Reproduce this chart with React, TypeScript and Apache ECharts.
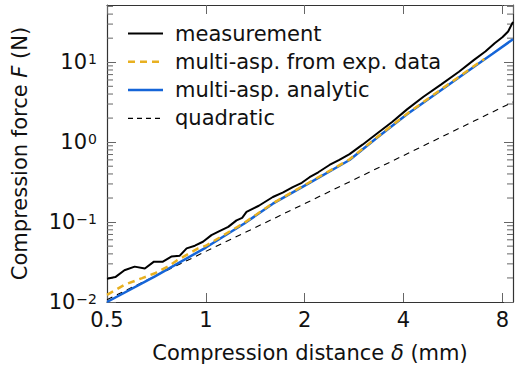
import React, { useEffect, useRef } from "react";
import * as echarts from "echarts";

// ---- data ----
const measX = [0.5, 0.53, 0.565, 0.607, 0.652, 0.695, 0.74, 0.785, 0.833, 0.874, 0.926, 0.98, 1.04, 1.1, 1.17, 1.24, 1.29, 1.33, 1.45, 1.6, 1.72, 1.84, 1.96, 2.07, 2.2, 2.38, 2.55, 2.74, 3.0, 3.3, 3.7, 4.1, 4.6, 5.2, 5.9, 6.56, 7.1, 7.58, 8.0, 8.33, 8.62];
const measF = [0.0195, 0.0205, 0.025, 0.0277, 0.0262, 0.032, 0.032, 0.037, 0.038, 0.0469, 0.0506, 0.0567, 0.0686, 0.0769, 0.0871, 0.105, 0.113, 0.134, 0.16, 0.206, 0.235, 0.274, 0.31, 0.364, 0.42, 0.518, 0.6, 0.709, 0.93, 1.256, 1.8, 2.57, 3.7, 5.25, 7.6, 10.7, 13.6, 17.3, 20.5, 24.2, 32];

const expX = [0.5, 0.565, 0.64, 0.7, 0.766, 0.82, 0.947, 1.0, 1.31, 1.6, 2.07, 2.74, 3.3, 4.1, 5.2, 6.56, 7.05];
const expF = [0.0123, 0.0164, 0.0199, 0.0229, 0.0277, 0.0335, 0.0469, 0.0505, 0.098, 0.172, 0.315, 0.61, 1.13, 2.27, 4.55, 8.95, 11.0];

const anaX = [0.5, 0.7, 1.0, 1.31, 1.6, 2.07, 2.74, 3.3, 4.1, 5.2, 6.56, 7.47, 8.62];
const anaF = [0.01, 0.0209, 0.048, 0.096, 0.17, 0.31, 0.598, 1.11, 2.23, 4.45, 8.8, 12.8, 19.4];

const quadX = [0.5, 1, 2, 4, 8.62];
const quadF = [0.0107, 0.043, 0.17, 0.68, 3.18];

const legendNames = ["measurement", "multi-asp. from exp. data", "multi-asp. analytic", "quadratic"];
const yMinorTicks = [0.02, 0.03, 0.04, 0.05, 0.06, 0.07, 0.08, 0.09, 0.2, 0.3, 0.4, 0.5, 0.6, 0.7, 0.8, 0.9, 2, 3, 4, 5, 6, 7, 8, 9, 20, 30, 40, 50];

const X_MIN = 0.5;
const X_MAX = 8.62;
const Y_MIN = 0.01;
const Y_MAX = 52;

const FONT = "DejaVu Sans";
const FS = 21;
const SUP = 14;

const COLORS = { meas: "#000000", exp: "#E8B020", ana: "#1565D8", quad: "#000000" };

const zip = (xs: number[], ys: number[]) => xs.map((x, i) => [x, ys[i]]);

export default function App() {
  const ref = useRef<HTMLDivElement>(null);
  useEffect(() => {
    if (!ref.current) return;
    const chart = echarts.init(ref.current, null, { renderer: "svg" });
    const frame = { show: true, lineStyle: { color: "#333", width: 1.2 } };
    const tickStyle = { color: "#666", width: 1 };
    const supLabel = (v: number) => {
      const e = Math.round(Math.log10(v));
      return `{b|10}{s|${e < 0 ? "\u2212" + -e : e}}`;
    };
    const legendStyles = [
      { color: COLORS.meas, width: 2, dash: null as number[] | null },
      { color: COLORS.exp, width: 2.5, dash: [7, 5] },
      { color: COLORS.ana, width: 2.5, dash: null },
      { color: COLORS.quad, width: 1.1, dash: [5, 4] },
    ];
    const legendItems: any[] = [];
    legendNames.forEach((name, i) => {
      const y = 33.5 + i * 28.3;
      const s = legendStyles[i];
      legendItems.push({
        type: "line",
        shape: { x1: 128, y1: y, x2: 163, y2: y },
        style: { stroke: s.color, lineWidth: s.width, lineDash: s.dash || undefined },
      });
      legendItems.push({
        type: "text",
        x: 175,
        y: y,
        style: { text: name, fontFamily: FONT, fontSize: FS, fill: "#111", verticalAlign: "middle", align: "left" },
      });
    });
    chart.setOption({
      animation: false,
      textStyle: { fontFamily: FONT },
      grid: { left: 107, top: 5, width: 406, height: 299 },
      graphic: legendItems,
      xAxis: [
        {
          type: "log",
          logBase: 2,
          min: X_MIN,
          max: X_MAX,
          position: "bottom",
          axisLine: frame,
          axisTick: { show: true, inside: true, length: 9, lineStyle: tickStyle },
          splitLine: { show: false },
          axisLabel: {
            fontFamily: FONT,
            fontSize: FS,
            color: "#111",
            margin: 7,
            showMaxLabel: false,
            formatter: (v: number) => String(+v.toFixed(2)),
          },
          name: "Compression distance {i|\u03b4} (mm)",
          nameLocation: "middle",
          nameGap: 40,
          nameTextStyle: {
            fontFamily: FONT,
            fontSize: FS,
            color: "#111",
            rich: { i: { fontFamily: FONT, fontSize: FS, fontStyle: "italic", color: "#111" } },
          },
        },
        {
          type: "log",
          logBase: 2,
          min: X_MIN,
          max: X_MAX,
          position: "top",
          axisLine: frame,
          axisTick: { show: true, inside: true, length: 9, lineStyle: tickStyle },
          axisLabel: { show: false },
          splitLine: { show: false },
        },
      ],
      yAxis: [
        {
          type: "log",
          logBase: 10,
          min: Y_MIN,
          max: Y_MAX,
          position: "left",
          axisLine: frame,
          axisTick: { show: true, inside: true, length: 9, lineStyle: tickStyle },
          splitLine: { show: false },
          axisLabel: {
            margin: 10,
            showMaxLabel: false,
            formatter: supLabel,
            rich: {
              b: { fontFamily: FONT, fontSize: FS, color: "#111", lineHeight: 21, verticalAlign: "bottom" },
              s: { fontFamily: FONT, fontSize: SUP, color: "#111", lineHeight: 14, verticalAlign: "top", padding: [0, 0, 10, 1] },
            },
          },
          name: "Compression force {i|F} (N)",
          nameLocation: "middle",
          nameGap: 77,
          nameTextStyle: {
            fontFamily: FONT,
            fontSize: FS,
            color: "#111",
            rich: { i: { fontFamily: FONT, fontSize: FS, fontStyle: "italic", color: "#111" } },
          },
        },
        {
          type: "log",
          logBase: 10,
          min: Y_MIN,
          max: Y_MAX,
          position: "right",
          axisLine: frame,
          axisTick: { show: true, inside: true, length: 9, lineStyle: tickStyle },
          axisLabel: { show: false },
          splitLine: { show: false },
        },
      ],
      series: [
        {
          name: legendNames[0],
          type: "line",
          data: zip(measX, measF),
          symbol: "none",
          lineStyle: { color: COLORS.meas, width: 2 },
          z: 3,
        },
        {
          name: legendNames[2],
          type: "line",
          data: zip(anaX, anaF),
          symbol: "none",
          lineStyle: { color: COLORS.ana, width: 2.5 },
          z: 4,
        },
        {
          name: legendNames[1],
          type: "line",
          data: zip(expX, expF),
          symbol: "none",
          lineStyle: { color: COLORS.exp, width: 2.5, type: [7, 5] },
          z: 5,
        },
        {
          name: legendNames[3],
          type: "line",
          data: zip(quadX, quadF),
          symbol: "none",
          lineStyle: { color: COLORS.quad, width: 1.1, type: [6, 5] },
          z: 3,
        },
        {
          name: "minorTicks",
          type: "custom",
          data: yMinorTicks.map((v) => [X_MIN, v]),
          silent: true,
          clip: false,
          renderItem: (params: any, api: any) => {
            const v = api.value(1);
            const l = api.coord([X_MIN, v]);
            const r = api.coord([X_MAX, v]);
            const st = { stroke: "#666", lineWidth: 1 };
            return {
              type: "group",
              children: [
                { type: "line", shape: { x1: l[0], y1: l[1], x2: l[0] + 6, y2: l[1] }, style: st },
                { type: "line", shape: { x1: r[0], y1: r[1], x2: r[0] - 6, y2: r[1] }, style: st },
              ],
            };
          },
        },
      ],
    });
    return () => chart.dispose();
  }, []);
  return <div ref={ref} style={{ width: 515, height: 368, position: "absolute", left: 0, top: 0 }} />;
}
